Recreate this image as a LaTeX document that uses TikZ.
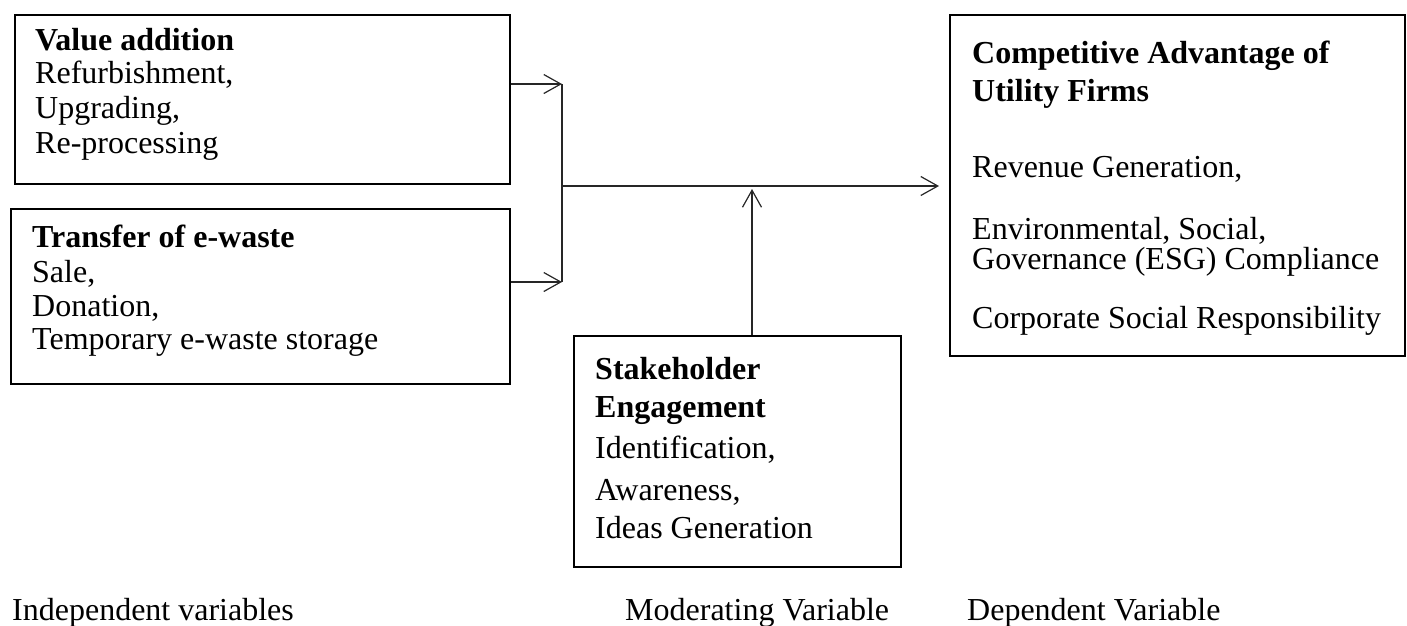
\documentclass[tikz,border=0pt]{standalone}
\usepackage{fontspec}
\setmainfont{Liberation Serif}
\usetikzlibrary{arrows.meta}
\begin{document}
\begin{tikzpicture}[x=1pt,y=-1pt,
  box/.style={draw, line width=1.8pt, inner sep=0pt, anchor=north west},
  txt/.style={anchor=base west, inner sep=0pt, font=\fontsize{32}{34}\selectfont},
  hd/.style={anchor=base west, inner sep=0pt, font=\fontsize{32}{34}\selectfont\bfseries},
  conn/.style={line width=1.2pt, draw=black!85},
  arr/.style={conn, -{Straight Barb[length=17pt,width=19pt,line width=1.2pt]}}]
\useasboundingbox (0,0) rectangle (1407,625);
% boxes
\node[box, minimum width=495pt, minimum height=169pt] (b1) at (14,14) {};
\node[box, minimum width=499pt, minimum height=175pt] (b2) at (10,208) {};
\node[box, minimum width=327pt, minimum height=231pt] (b3) at (573,335) {};
\node[box, minimum width=455pt, minimum height=341pt] (b4) at (949,14) {};
% box 1 text
\node[hd]  (t1a) at (35,50)  {Value addition};
\node[txt] (t1b) at (35,83)  {Refurbishment,};
\node[txt] (t1c) at (35,118) {Upgrading,};
\node[txt] (t1d) at (35,153) {Re-processing};
% box 2 text
\node[hd]  (t2a) at (32,247) {Transfer of e-waste};
\node[txt] (t2b) at (32,282) {Sale,};
\node[txt] (t2c) at (32,316) {Donation,};
\node[txt] (t2d) at (32,349) {Temporary e-waste storage};
% box 3 text
\node[hd]  (t3a) at (595,379) {Stakeholder};
\node[hd]  (t3b) at (595,417) {Engagement};
\node[txt] (t3c) at (595,458) {Identification,};
\node[txt] (t3d) at (595,500) {Awareness,};
\node[txt] (t3e) at (595,538) {Ideas Generation};
% box 4 text
\node[hd]  (t4a) at (972,63)  {Competitive Advantage of};
\node[hd]  (t4b) at (972,101) {Utility Firms};
\node[txt] (t4c) at (972,177) {Revenue Generation,};
\node[txt] (t4d) at (972,239) {Environmental, Social,};
\node[txt] (t4e) at (972,269) {Governance (ESG) Compliance};
\node[txt] (t4f) at (972,328) {Corporate Social Responsibility};
% bottom labels
\node[txt] (l1) at (12,620)  {Independent variables};
\node[txt] (l2) at (625,620) {Moderating Variable};
\node[txt] (l3) at (967,620) {Dependent Variable};
% connectors
\coordinate (j1) at (562,84);
\coordinate (j2) at (562,282);
\coordinate (jm) at (562,186);
\coordinate (mm) at (752,186);
\draw[arr] (b1.east |- j1) -- (j1);
\draw[arr] (b2.east |- j2) -- (j2);
\draw[conn] (j1) -- (j2);
\draw[arr, shorten >=10pt] (jm) -- (b4.west |- jm);
\draw[arr, shorten >=3pt] (b3.north -| mm) -- (mm);
\end{tikzpicture}
\end{document}
